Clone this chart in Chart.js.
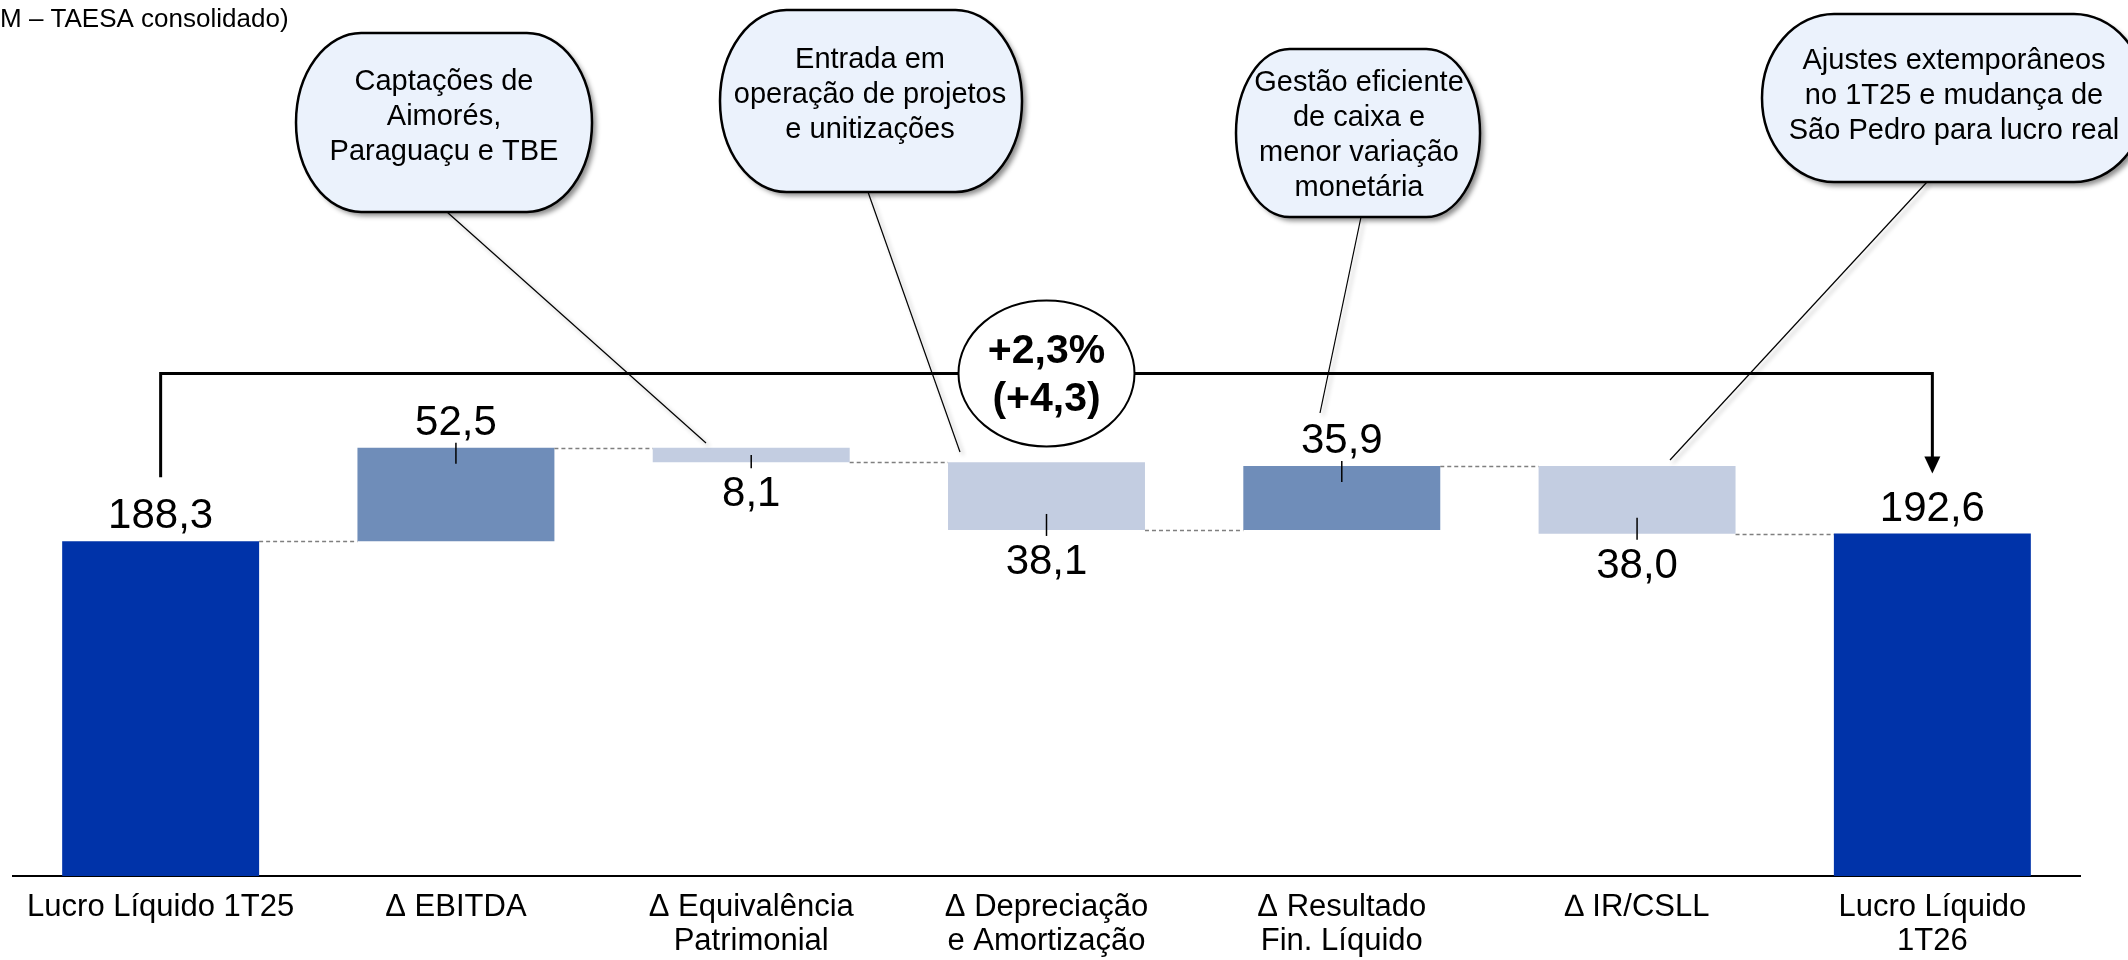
<!DOCTYPE html>
<html><head><meta charset="utf-8">
<script src="https://cdn.jsdelivr.net/npm/chart.js@4.4.1/dist/chart.umd.min.js"></script>
<style>html,body{margin:0;padding:0;background:#fff;}#wrap{width:2128px;height:960px;position:relative;}</style>
</head><body><div id="wrap"><canvas id="c" width="2128" height="960"></canvas></div>
<script>
// ---- data ----
const categories = [
  "Lucro Líquido 1T25",
  "Δ EBITDA",
  ["Δ Equivalência", "Patrimonial"],
  ["Δ Depreciação", "e Amortização"],
  ["Δ Resultado", "Fin. Líquido"],
  "∆ IR/CSLL",
  ["Lucro Líquido", "1T26"]
];
const startValue = 188.3;
const deltaValues = [52.5, -8.1, -38.1, 35.9, -38.0];
const endValue = 192.6;
const variationLines = ["+2,3%", "(+4,3)"];
const titleText = "M – TAESA consolidado)";
const bubbleTexts = [
  ["Captações de", "Aimorés,", "Paraguaçu e TBE"],
  ["Entrada em", "operação de projetos", "e unitizações"],
  ["Gestão eficiente", "de caixa e", "menor variação", "monetária"],
  ["Ajustes extemporâneos", "no 1T25 e mudança de", "São Pedro para lucro real"]
];

// ---- styles / layout (not data) ----
const COLORS = { total: "#0033A9", up: "#6F8DB9", down: "#C3CDE1" };
const FONT = "'Liberation Sans', Arial, sans-serif";
const bubbleBoxes = [
  { x: 296, y: 33, w: 296, h: 179, firstLine: 82, cx: 444, line: [447, 212, 706, 443] },
  { x: 720, y: 10, w: 302, h: 182, firstLine: 60, cx: 870, line: [868, 192, 960, 452] },
  { x: 1236, y: 49, w: 244, h: 168, firstLine: 83, cx: 1359, line: [1361, 217, 1320, 413] },
  { x: 1762, y: 14, w: 384, h: 168, firstLine: 61, cx: 1954, line: [1927, 182, 1670, 460] }
];

// ---- build waterfall ranges from data ----
const ranges = [], kinds = [], shown = [], levels = [];
ranges.push([0, startValue]); kinds.push("total"); shown.push(startValue);
let run = startValue; levels.push(run);
deltaValues.forEach(d => {
  const next = run + d;
  ranges.push([Math.min(run, next), Math.max(run, next)]);
  kinds.push(d >= 0 ? "up" : "down");
  shown.push(Math.abs(d));
  run = next; levels.push(run);
});
ranges.push([0, endValue]); kinds.push("total"); shown.push(endValue);
const fmt = v => v.toFixed(1).replace(".", ",");

function bubblePath(ctx, x, y, w, h) {
  const rx = Math.min(w * 0.22, 72), ry = h / 2;
  ctx.beginPath();
  ctx.moveTo(x + rx, y);
  ctx.lineTo(x + w - rx, y);
  ctx.ellipse(x + w - rx, y + ry, rx, ry, 0, -Math.PI / 2, Math.PI / 2);
  ctx.lineTo(x + rx, y + h);
  ctx.ellipse(x + rx, y + ry, rx, ry, 0, Math.PI / 2, Math.PI * 1.5);
  ctx.closePath();
}

const waterfallPlugin = {
  id: "waterfall",
  afterDatasetsDraw(chart) {
    const ctx = chart.ctx, meta = chart.getDatasetMeta(0), ys = chart.scales.y;
    ctx.save();
    // dashed connectors
    ctx.strokeStyle = "#7F7F7F"; ctx.lineWidth = 1.6; ctx.setLineDash([4, 3]);
    for (let i = 0; i < meta.data.length - 1; i++) {
      const a = meta.data[i], b = meta.data[i + 1];
      const py = Math.round(ys.getPixelForValue(levels[i])) + 0.5;
      ctx.beginPath(); ctx.moveTo(a.x + a.width / 2, py); ctx.lineTo(b.x - b.width / 2, py); ctx.stroke();
    }
    ctx.setLineDash([]);
    // ticks + value labels
    ctx.fillStyle = "#000"; ctx.strokeStyle = "#000"; ctx.lineWidth = 1.5;
    ctx.font = "42px " + FONT; ctx.textAlign = "center"; ctx.textBaseline = "alphabetic";
    meta.data.forEach((bar, i) => {
      const top = Math.min(bar.y, bar.base), bottom = Math.max(bar.y, bar.base);
      const h = bottom - top;
      const k = kinds[i];
      if (k === "down") {
        const inside = Math.min(16, h / 2);
        ctx.beginPath(); ctx.moveTo(bar.x, bottom - inside); ctx.lineTo(bar.x, bottom + 6); ctx.stroke();
        ctx.fillText(fmt(shown[i]), bar.x, bottom + 44);
      } else {
        if (k === "up") {
          const inside = Math.min(16, h / 2);
          ctx.beginPath(); ctx.moveTo(bar.x, top - 5); ctx.lineTo(bar.x, top + inside); ctx.stroke();
        }
        ctx.fillText(fmt(shown[i]), bar.x, top - 13);
      }
    });
    ctx.restore();
  },
  afterDraw(chart) {
    const ctx = chart.ctx, meta = chart.getDatasetMeta(0), ys = chart.scales.y;
    ctx.save();
    // title fragment
    ctx.fillStyle = "#000"; ctx.font = "26px " + FONT; ctx.textAlign = "left"; ctx.textBaseline = "alphabetic";
    ctx.fillText(titleText, 0, 27);

    // leader lines with soft shadow
    ctx.strokeStyle = "#000"; ctx.lineWidth = 1.2;
    ctx.shadowColor = "rgba(0,0,0,0.3)"; ctx.shadowBlur = 4; ctx.shadowOffsetX = 3; ctx.shadowOffsetY = 3;
    bubbleBoxes.forEach(b => {
      const [x1, y1, x2, y2] = b.line;
      ctx.beginPath(); ctx.moveTo(x1, y1); ctx.lineTo(x2, y2); ctx.stroke();
    });
    ctx.shadowColor = "transparent"; ctx.shadowBlur = 0; ctx.shadowOffsetX = 0; ctx.shadowOffsetY = 0;

    // bracket with arrow
    const first = meta.data[0], last = meta.data[meta.data.length - 1];
    const firstTop = Math.min(first.y, first.base), lastTop = Math.min(last.y, last.base);
    const yb = Math.round(ys.getPixelForValue(283)) + 0.5;
    ctx.strokeStyle = "#000"; ctx.lineWidth = 3; ctx.lineJoin = "miter";
    ctx.beginPath();
    ctx.moveTo(first.x, firstTop - 64);
    ctx.lineTo(first.x, yb);
    ctx.lineTo(last.x, yb);
    ctx.lineTo(last.x, lastTop - 74);
    ctx.stroke();
    ctx.fillStyle = "#000";
    ctx.beginPath();
    ctx.moveTo(last.x - 8, lastTop - 77);
    ctx.lineTo(last.x + 8, lastTop - 77);
    ctx.lineTo(last.x, lastTop - 60);
    ctx.closePath(); ctx.fill();

    // variation ellipse
    const cx = (first.x + last.x) / 2;
    ctx.beginPath(); ctx.ellipse(cx, yb, 88, 73, 0, 0, Math.PI * 2);
    ctx.fillStyle = "#fff"; ctx.fill();
    ctx.lineWidth = 2; ctx.strokeStyle = "#000"; ctx.stroke();
    ctx.fillStyle = "#000"; ctx.font = "bold 41px " + FONT; ctx.textAlign = "center"; ctx.textBaseline = "middle";
    ctx.fillText(variationLines[0], cx, yb - 22);
    ctx.fillText(variationLines[1], cx, yb + 26);

    // bubbles
    bubbleBoxes.forEach((b, i) => {
      bubblePath(ctx, b.x, b.y, b.w, b.h);
      ctx.shadowColor = "rgba(0,0,0,0.45)"; ctx.shadowBlur = 5; ctx.shadowOffsetX = 4; ctx.shadowOffsetY = 4;
      ctx.fillStyle = "#EBF2FC"; ctx.fill();
      ctx.shadowColor = "transparent"; ctx.shadowBlur = 0; ctx.shadowOffsetX = 0; ctx.shadowOffsetY = 0;
      ctx.lineWidth = 2.5; ctx.strokeStyle = "#000"; ctx.stroke();
      ctx.fillStyle = "#000"; ctx.font = "29px " + FONT; ctx.textAlign = "center"; ctx.textBaseline = "middle";
      bubbleTexts[i].forEach((t, j) => ctx.fillText(t, b.cx, b.firstLine + j * 35));
    });
    ctx.restore();
  }
};

new Chart(document.getElementById("c").getContext("2d"), {
  type: "bar",
  data: {
    labels: categories,
    datasets: [{
      data: ranges,
      backgroundColor: kinds.map(k => COLORS[k]),
      borderWidth: 0,
      barPercentage: 0.667,
      categoryPercentage: 1
    }]
  },
  options: {
    responsive: false,
    animation: false,
    layout: { padding: { left: 13, right: 48, top: 10, bottom: 0 } },
    plugins: { legend: { display: false }, tooltip: { enabled: false } },
    scales: {
      x: {
        grid: { display: false, drawTicks: false },
        border: { display: true, color: "#000", width: 2 },
        ticks: { color: "#000", font: { family: FONT, size: 31, lineHeight: 1.1 }, padding: 14, maxRotation: 0, autoSkip: false },
        afterFit(scale) { scale.height = 84; }
      },
      y: { display: false, min: 0, max: 487 }
    }
  },
  plugins: [waterfallPlugin]
});
</script>
</body></html>
